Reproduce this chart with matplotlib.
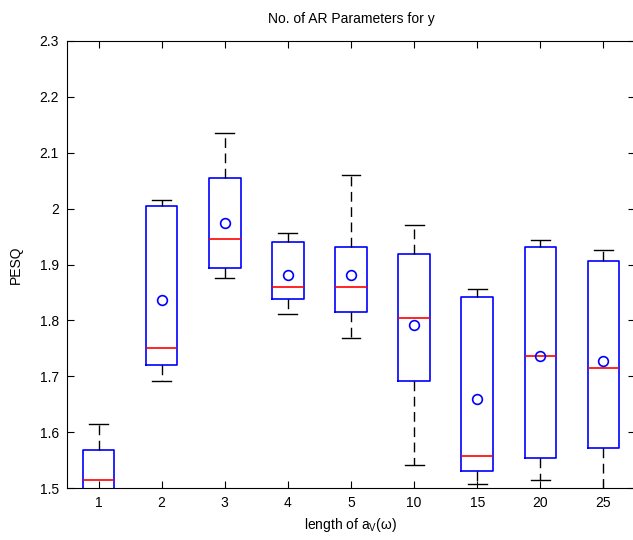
import matplotlib
matplotlib.use('Agg')
import matplotlib.pyplot as plt

plt.rcParams['font.family'] = ['Liberation Sans', 'DejaVu Sans']

# resumo de cada caixa (PESQ) por comprimento
rotulos = ['1', '2', '3', '4', '5', '10', '15', '20', '25']
bigode_inf = [1.45, 1.692, 1.875, 1.811, 1.769, 1.542, 1.507, 1.514, 1.46]
q1 = [1.47, 1.720, 1.894, 1.839, 1.815, 1.692, 1.530, 1.553, 1.572]
mediana = [1.514, 1.751, 1.945, 1.860, 1.860, 1.804, 1.558, 1.736, 1.715]
q3 = [1.568, 2.005, 2.055, 1.940, 1.931, 1.919, 1.842, 1.931, 1.907]
bigode_sup = [1.615, 2.015, 2.135, 1.956, 2.060, 1.970, 1.856, 1.943, 1.926]
media = [1.48, 1.837, 1.975, 1.881, 1.881, 1.792, 1.659, 1.736, 1.727]

stats = []
for i in range(len(rotulos)):
    stats.append({'label': rotulos[i], 'whislo': bigode_inf[i], 'q1': q1[i],
                  'med': mediana[i], 'q3': q3[i], 'whishi': bigode_sup[i],
                  'mean': media[i], 'fliers': []})

fig = plt.figure(figsize=(6.33, 5.40), dpi=100)
ax = fig.add_axes([67 / 633, 52 / 540, 568 / 633, 447 / 540])

ax.bxp(stats, widths=0.5, showmeans=True,
       boxprops=dict(color='#0000ff', linewidth=1.2),
       medianprops=dict(color='#ff0000', linewidth=1.2),
       whiskerprops=dict(color='black', linewidth=1.0, linestyle=(0, (7, 4))),
       capprops=dict(color='black', linewidth=1.0),
       capwidths=0.3,
       meanprops=dict(marker='o', markerfacecolor='none', markeredgecolor='#0000ff',
                      markeredgewidth=1.2, markersize=7))

ax.set_xlim(0.5, 9.5)
ax.set_ylim(1.5, 2.3)
ax.set_yticks([1.5, 1.6, 1.7, 1.8, 1.9, 2.0, 2.1, 2.2, 2.3])
ax.set_yticklabels(['1.5', '1.6', '1.7', '1.8', '1.9', '2', '2.1', '2.2', '2.3'])
ax.tick_params(direction='in', top=True, right=True, length=5, labelsize=10, pad=6)

ax.set_title('No. of AR Parameters for y', fontsize=10, pad=13)
ax.set_xlabel(r'length of a$_\mathregular{V}$(ω)', fontsize=10)
ax.set_ylabel('PESQ', fontsize=10, labelpad=12)

plt.savefig('out.png', dpi=100)
